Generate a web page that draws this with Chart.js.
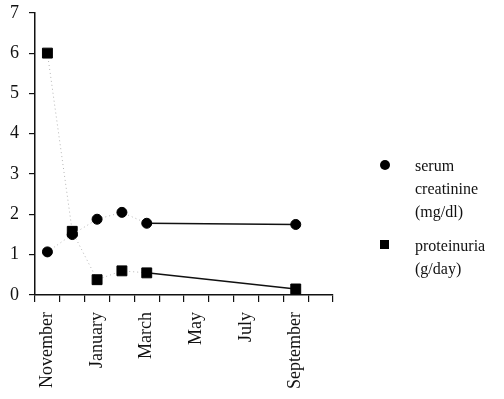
<!DOCTYPE html>
<html>
<head>
<meta charset="utf-8">
<script src="https://cdn.jsdelivr.net/npm/chart.js@4/dist/chart.umd.min.js"></script>
<style>
  body { margin: 0; background: #fff; }
  #wrap { position: relative; width: 504px; height: 399px; overflow: hidden; }
  #chart { position: absolute; left: 0; top: -8px; }
  .legend { position: absolute; font-family: "Liberation Serif", serif; font-size: 16px; line-height: 23px; color: #111; }
  .mark { position: absolute; background: #000; }
</style>
</head>
<body>
<div id="wrap">
  <canvas id="chart" width="504" height="407"></canvas>
  <div class="mark" style="left:380px;top:160px;width:10px;height:10px;border-radius:50%;"></div>
  <div class="legend" style="left:415px;top:154px;">serum<br>creatinine<br>(mg/dl)</div>
  <div class="mark" style="left:380px;top:240px;width:9px;height:9px;"></div>
  <div class="legend" style="left:415px;top:234px;">proteinuria<br>(g/day)</div>
</div>
<script>
const months = ["November", "December", "January", "February", "March", "April",
                "May", "June", "July", "August", "September", "October"];
const shownMonths = ["November", "January", "March", "May", "July", "September"];
const creatinine = [1.07, 1.5, 1.88, 2.05, 1.78, null, null, null, null, null, 1.75, null];
const proteinuria = [6.0, 1.58, 0.38, 0.6, 0.55, null, null, null, null, null, 0.15, null];
const yTicks = [0, 1, 2, 3, 4, 5, 6, 7];

// dotted grey until March, solid black afterwards
const segStyle = {
    borderColor: c => c.p0DataIndex < 4 ? "#b5b5b5" : "#111",
    borderDash: c => c.p0DataIndex < 4 ? [1, 3] : [],
    borderWidth: c => c.p0DataIndex < 4 ? 1 : 1.5
};

const ctx = document.getElementById("chart").getContext("2d");
new Chart(ctx, {
    type: "line",
    data: {
        labels: months,
        datasets: [{
            label: "serum creatinine (mg/dl)",
            data: creatinine,
            pointStyle: "circle",
            pointRadius: 5,
            pointBackgroundColor: "#000",
            pointBorderColor: "#000",
            spanGaps: true,
            segment: segStyle
        }, {
            label: "proteinuria (g/day)",
            data: proteinuria,
            pointStyle: "rect",
            pointRadius: 7,
            pointBackgroundColor: "#000",
            pointBorderColor: "#000",
            spanGaps: true,
            segment: segStyle
        }]
    },
    options: {
        responsive: false,
        animation: false,
        devicePixelRatio: 1,
        layout: { padding: { left: 0, right: 171, top: 0, bottom: 0 } },
        plugins: { legend: { display: false }, tooltip: { enabled: false } },
        scales: {
            x: {
                type: "category",
                offset: true,
                grid: { offset: true, drawOnChartArea: false, drawTicks: true, tickLength: 7, color: "#111", lineWidth: 1.2 },
                border: { display: true, color: "#111", width: 1.5 },
                ticks: {
                    autoSkip: false,
                    minRotation: 90,
                    maxRotation: 90,
                    padding: 10,
                    color: "#111",
                    font: { family: "Liberation Serif", size: 18 },
                    callback: (v, i) => shownMonths.includes(months[i]) ? months[i] : ""
                }
            },
            y: {
                min: 0,
                max: 7,
                afterBuildTicks: axis => { axis.ticks = yTicks.map(v => ({ value: v })); },
                grid: { drawOnChartArea: false, drawTicks: true, tickLength: 6, color: "#111", lineWidth: 1.2 },
                border: { display: true, color: "#111", width: 1.5 },
                ticks: {
                    padding: 10,
                    color: "#111",
                    font: { family: "Liberation Serif", size: 18 }
                }
            }
        }
    }
});
</script>
</body>
</html>
